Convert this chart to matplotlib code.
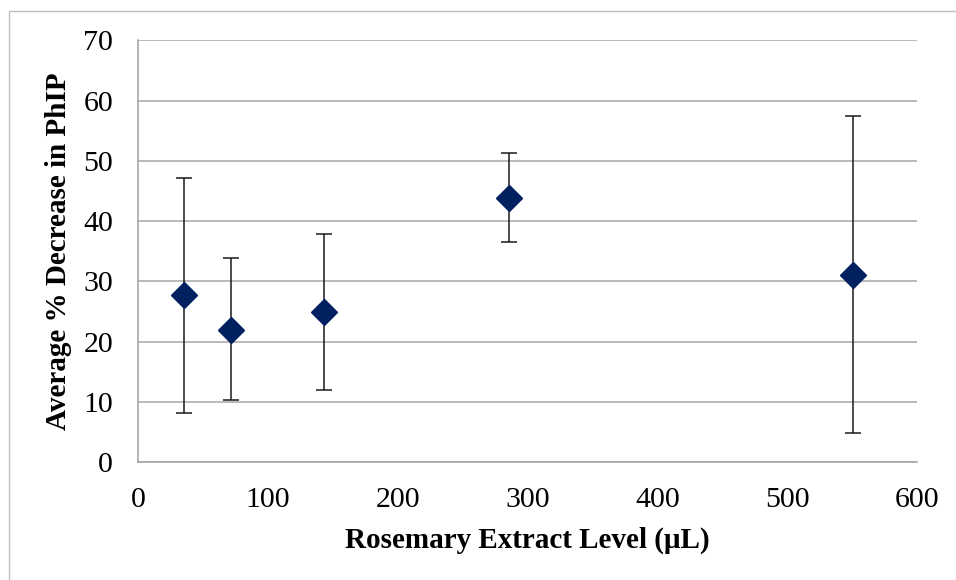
import matplotlib
matplotlib.use("Agg")
import matplotlib.pyplot as plt
from matplotlib.patches import Rectangle

# rosemary extract level (uL) and mean % decrease in PhIP
extract_level = [35.7, 71.4, 142.9, 285.7, 550]
mean_decrease = [27.7, 22.0, 24.9, 43.9, 31.1]
err_upper = [47.1, 33.9, 37.8, 51.3, 57.5]
err_lower = [8.2, 10.3, 11.9, 36.5, 4.8]

x_ticks = [0, 100, 200, 300, 400, 500, 600]
y_ticks = [0, 10, 20, 30, 40, 50, 60, 70]

plt.rcParams["font.family"] = ["Liberation Serif", "DejaVu Serif"]

fig = plt.figure(figsize=(9.56, 5.8), dpi=100)
ax = fig.add_axes([0.1444, 0.2034, 0.8153, 0.7268])

# light chart border
fig.patches.append(Rectangle((9 / 956, -0.1), 1.2, 1 - 11 / 580 + 0.1,
                             transform=fig.transFigure, fill=False,
                             edgecolor="#c0c0c0", linewidth=1.0))

yerr = [[m - lo for m, lo in zip(mean_decrease, err_lower)],
        [hi - m for m, hi in zip(mean_decrease, err_upper)]]
ax.errorbar(extract_level, mean_decrease, yerr=yerr, fmt="none",
            ecolor="#1a1a1a", elinewidth=1.1, capsize=5.5, capthick=1.1, zorder=3)
ax.plot(extract_level, mean_decrease, linestyle="none", marker="D",
        markersize=13.5, color="#002060", zorder=4)

ax.set_xlim(0, 600)
ax.set_ylim(0, 70)
ax.set_xticks(x_ticks)
ax.set_yticks(y_ticks)
ax.grid(axis="y", color="#a6a6a6", linewidth=1.1)
ax.set_axisbelow(True)

for side in ["top", "right"]:
    ax.spines[side].set_visible(False)
for side in ["left", "bottom"]:
    ax.spines[side].set_color("#a0a0a0")
    ax.spines[side].set_linewidth(1.1)

ax.tick_params(axis="both", length=0, labelsize=21.5)
ax.tick_params(axis="y", pad=18)
ax.tick_params(axis="x", pad=18)

ax.set_xlabel("Rosemary Extract Level (\u03bcL)", fontsize=21,
              fontweight="bold", labelpad=10)
ax.set_ylabel("Average % Decrease in PhIP", fontsize=21,
              fontweight="bold", labelpad=8)

fig.savefig("out.png", dpi=100)
